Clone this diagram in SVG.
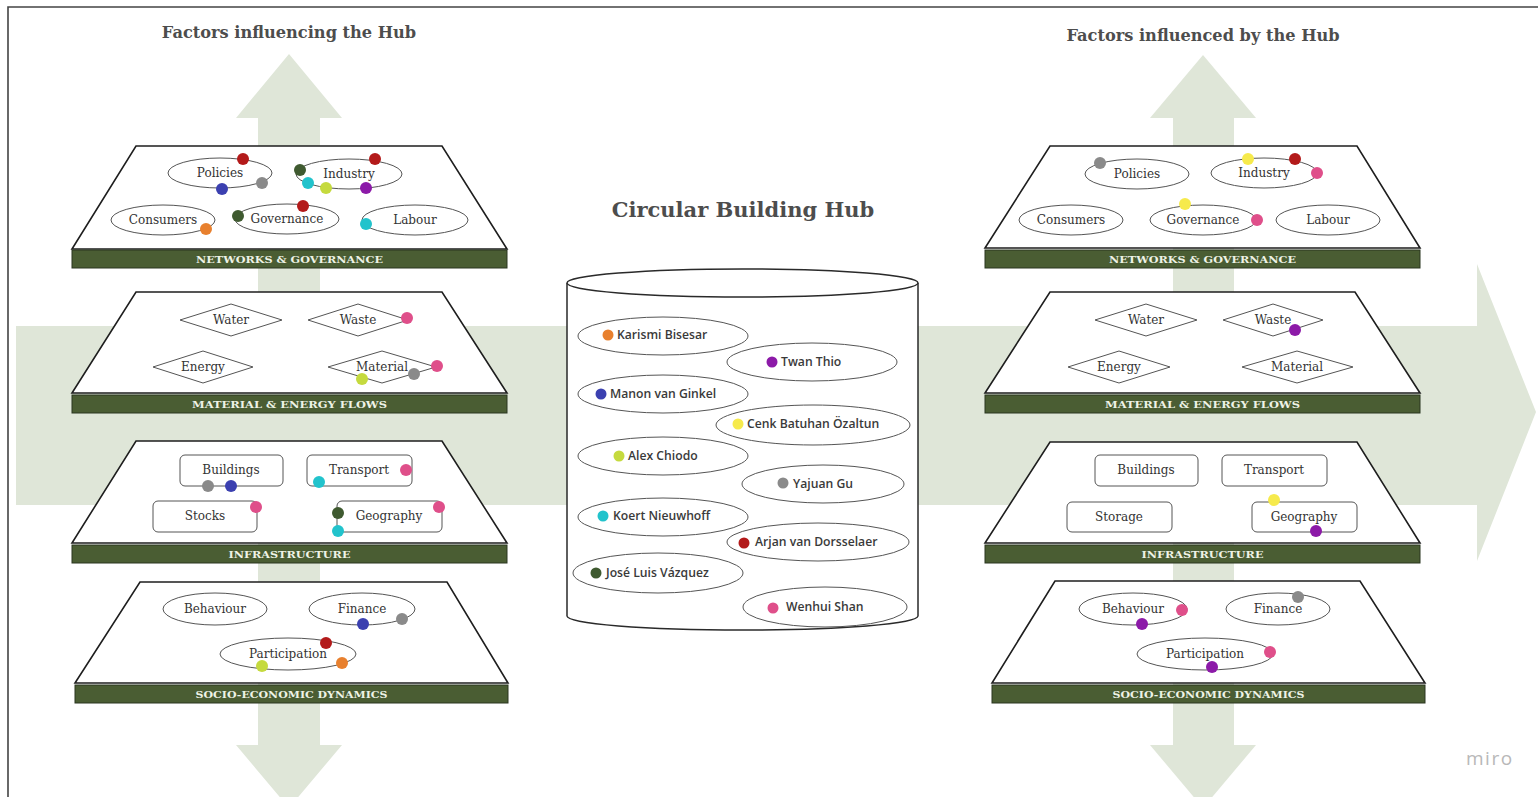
<svg xmlns="http://www.w3.org/2000/svg" width="1538" height="797" viewBox="0 0 1538 797">
<style>
.bg{fill:#dfe6d8}
.pan{fill:#fff;stroke:#1e1e1e;stroke-width:1.6}
.band{fill:#4a5d33;stroke:#2a3620;stroke-width:1}
.bt{font-family:"DejaVu Serif","Liberation Serif",serif;font-weight:bold;font-size:10px;fill:#eef3e6;text-anchor:middle}
.el{fill:#fff;stroke:#555;stroke-width:1}
.t{font-family:"DejaVu Serif","Liberation Serif",serif;font-size:12px;fill:#333;text-anchor:middle}
.title{font-family:"DejaVu Serif","Liberation Serif",serif;font-weight:bold;fill:#4d4d4d;text-anchor:middle}
.nm{font-family:"Open Sans","Noto Sans",sans-serif;font-weight:600;font-size:12.2px;fill:#3a3a3a}
.cyl{fill:#fff;stroke:#2a2a2a;stroke-width:1.5}
.o{fill:#e8802e}.p{fill:#8c1aa8}.b{fill:#3b40b0}.y{fill:#f6ea4c}.g{fill:#c5da3e}.gr{fill:#8a8a8a}.c{fill:#22c3cc}.r{fill:#b31a1a}.dg{fill:#3f5a30}.pk{fill:#df4f8a}
</style>
<rect x="0" y="0" width="1538" height="797" fill="#fff"/>
<path d="M8,797 L8,7 L1538,7" fill="none" stroke="#444" stroke-width="1.6"/>

<g id="background-arrows">
<path class="bg" d="M16,326 L1477,326 L1477,264 L1536,412 L1477,561 L1477,505 L16,505 Z"/>
<path class="bg" d="M258,745 L258,118 L236,118 L289,54 L342,118 L320,118 L320,745 L342,745 L289,808 L236,745 Z"/>
<path class="bg" d="M1173,745 L1173,118 L1150,118 L1203,55 L1256,118 L1234,118 L1234,745 L1256,745 L1203,808 L1150,745 Z"/>
</g>

<text class="title" x="289" y="38" font-size="16.2">Factors influencing the Hub</text>
<text class="title" x="1203" y="41" font-size="16.2">Factors influenced by the Hub</text>
<text class="title" x="743" y="217" font-size="21" fill="#555">Circular Building Hub</text>

<g id="connectors"></g>

<g id="left-networks-governance">
<path class="pan" d="M136,146 L442,146 L507,249 L72,249 Z"/>
<rect class="band" x="72" y="250" width="435" height="18"/>
<text class="bt" x="289.5" y="263" textLength="187" lengthAdjust="spacingAndGlyphs">NETWORKS &amp; GOVERNANCE</text>
<ellipse class="el" cx="220" cy="173" rx="52" ry="15"/><text class="t" x="220" y="177">Policies</text>
<ellipse class="el" cx="349" cy="174" rx="53" ry="15"/><text class="t" x="349" y="178">Industry</text>
<ellipse class="el" cx="163" cy="220" rx="52" ry="15"/><text class="t" x="163" y="224">Consumers</text>
<ellipse class="el" cx="287" cy="219" rx="52" ry="15"/><text class="t" x="287" y="223">Governance</text>
<ellipse class="el" cx="415" cy="220" rx="53" ry="15"/><text class="t" x="415" y="224">Labour</text>
<circle class="r" cx="243" cy="159" r="6"/><circle class="b" cx="222" cy="189" r="6"/><circle class="gr" cx="262" cy="183" r="6"/>
<circle class="r" cx="375" cy="159" r="6"/><circle class="dg" cx="300" cy="170" r="6"/><circle class="c" cx="308" cy="183" r="6"/><circle class="g" cx="326" cy="188" r="6"/><circle class="p" cx="366" cy="188" r="6"/>
<circle class="o" cx="206" cy="229" r="6"/>
<circle class="dg" cx="238" cy="216" r="6"/><circle class="r" cx="303" cy="206" r="6"/>
<circle class="c" cx="366" cy="224" r="6"/>
</g>

<g id="left-material-energy">
<path class="pan" d="M136,292 L442,292 L507,393 L72,393 Z"/>
<rect class="band" x="72" y="395" width="435" height="18"/>
<text class="bt" x="289.5" y="408" textLength="195" lengthAdjust="spacingAndGlyphs">MATERIAL &amp; ENERGY FLOWS</text>
<path class="el" d="M180,320 L231,304 L282,320 L231,336 Z"/><text class="t" x="231" y="324">Water</text>
<path class="el" d="M308,320 L358,304 L408,320 L358,336 Z"/><text class="t" x="358" y="324">Waste</text>
<path class="el" d="M153,367 L203,351 L253,367 L203,383 Z"/><text class="t" x="203" y="371">Energy</text>
<path class="el" d="M328,367 L382,351 L436,367 L382,383 Z"/><text class="t" x="382" y="371">Material</text>
<circle class="pk" cx="407" cy="318" r="6"/>
<circle class="pk" cx="437" cy="366" r="6"/><circle class="gr" cx="414" cy="374" r="6"/><circle class="g" cx="362" cy="379" r="6"/>
</g>

<g id="left-infrastructure">
<path class="pan" d="M136,441 L442,441 L507,543 L72,543 Z"/>
<rect class="band" x="72" y="545" width="435" height="18"/>
<text class="bt" x="289.5" y="558" textLength="122" lengthAdjust="spacingAndGlyphs">INFRASTRUCTURE</text>
<rect class="el" x="180" y="455" width="103" height="31" rx="5"/><text class="t" x="231" y="474">Buildings</text>
<rect class="el" x="307" y="455" width="105" height="31" rx="5"/><text class="t" x="359" y="474">Transport</text>
<rect class="el" x="153" y="501" width="104" height="31" rx="5"/><text class="t" x="205" y="520">Stocks</text>
<rect class="el" x="337" y="501" width="105" height="31" rx="5"/><text class="t" x="389" y="520">Geography</text>
<circle class="gr" cx="208" cy="486" r="6"/><circle class="b" cx="231" cy="486" r="6"/>
<circle class="pk" cx="406" cy="470" r="6"/><circle class="c" cx="319" cy="482" r="6"/>
<circle class="pk" cx="256" cy="507" r="6"/>
<circle class="pk" cx="439" cy="507" r="6"/><circle class="dg" cx="338" cy="513" r="6"/><circle class="c" cx="338" cy="531" r="6"/>
</g>

<g id="left-socio-economic">
<path class="pan" d="M140,582 L447,582 L508,683 L75,683 Z"/>
<rect class="band" x="75" y="685" width="433" height="18"/>
<text class="bt" x="291.5" y="698" textLength="192" lengthAdjust="spacingAndGlyphs">SOCIO-ECONOMIC DYNAMICS</text>
<ellipse class="el" cx="215" cy="609" rx="52" ry="16"/><text class="t" x="215" y="613">Behaviour</text>
<ellipse class="el" cx="362" cy="609" rx="53" ry="16"/><text class="t" x="362" y="613">Finance</text>
<ellipse class="el" cx="288" cy="654" rx="68" ry="16"/><text class="t" x="288" y="658">Participation</text>
<circle class="b" cx="363" cy="624" r="6"/><circle class="gr" cx="402" cy="619" r="6"/>
<circle class="r" cx="326" cy="643" r="6"/><circle class="o" cx="342" cy="663" r="6"/><circle class="g" cx="262" cy="666" r="6"/>
</g>

<g id="hub">
<path class="cyl" d="M567,283 L567,616 A175.5,14 0 0 0 918,616 L918,283"/>
<ellipse class="cyl" cx="742.5" cy="283" rx="175.5" ry="14"/>
</g>
<g id="member-karismi"><ellipse class="el" cx="663" cy="336" rx="85" ry="19"/><circle class="o" cx="608" cy="335" r="5.5"/><text class="nm" x="617" y="339">Karismi Bisesar</text></g>
<g id="member-twan"><ellipse class="el" cx="812" cy="362" rx="85" ry="19"/><circle class="p" cx="772" cy="362" r="5.5"/><text class="nm" x="781" y="366">Twan Thio</text></g>
<g id="member-manon"><ellipse class="el" cx="663" cy="394" rx="85" ry="19"/><circle class="b" cx="601" cy="394" r="5.5"/><text class="nm" x="610" y="398">Manon van Ginkel</text></g>
<g id="member-cenk"><ellipse class="el" cx="813" cy="425" rx="97" ry="20"/><circle class="y" cx="738" cy="424" r="5.5"/><text class="nm" x="747" y="428">Cenk Batuhan Özaltun</text></g>
<g id="member-alex"><ellipse class="el" cx="663" cy="456" rx="85" ry="19"/><circle class="g" cx="619" cy="456" r="5.5"/><text class="nm" x="628" y="460">Alex Chiodo</text></g>
<g id="member-yajuan"><ellipse class="el" cx="823" cy="484" rx="81" ry="19"/><circle class="gr" cx="783" cy="483" r="5.5"/><text class="nm" x="793" y="488">Yajuan Gu</text></g>
<g id="member-koert"><ellipse class="el" cx="663" cy="517" rx="85" ry="19"/><circle class="c" cx="603" cy="516" r="5.5"/><text class="nm" x="613" y="520">Koert Nieuwhoff</text></g>
<g id="member-arjan"><ellipse class="el" cx="818" cy="542" rx="91" ry="19"/><circle class="r" cx="744" cy="543" r="5.5"/><text class="nm" x="755" y="546">Arjan van Dorsselaer</text></g>
<g id="member-jose"><ellipse class="el" cx="658" cy="573" rx="85" ry="20"/><circle class="dg" cx="596" cy="573" r="5.5"/><text class="nm" x="606" y="577">José Luis Vázquez</text></g>
<g id="member-wenhui"><ellipse class="el" cx="825" cy="607" rx="82" ry="20"/><circle class="pk" cx="773" cy="608" r="5.5"/><text class="nm" x="786" y="611">Wenhui Shan</text></g>

<g id="right-networks-governance">
<path class="pan" d="M1050,146 L1357,146 L1420,248 L985,248 Z"/>
<rect class="band" x="985" y="250" width="435" height="18"/>
<text class="bt" x="1202.5" y="263" textLength="187" lengthAdjust="spacingAndGlyphs">NETWORKS &amp; GOVERNANCE</text>
<ellipse class="el" cx="1137" cy="174" rx="52" ry="15"/><text class="t" x="1137" y="178">Policies</text>
<ellipse class="el" cx="1264" cy="173" rx="53" ry="15"/><text class="t" x="1264" y="177">Industry</text>
<ellipse class="el" cx="1071" cy="220" rx="52" ry="15"/><text class="t" x="1071" y="224">Consumers</text>
<ellipse class="el" cx="1203" cy="220" rx="53" ry="15"/><text class="t" x="1203" y="224">Governance</text>
<ellipse class="el" cx="1328" cy="220" rx="52" ry="15"/><text class="t" x="1328" y="224">Labour</text>
<circle class="gr" cx="1100" cy="163" r="6"/>
<circle class="y" cx="1248" cy="159" r="6"/><circle class="r" cx="1295" cy="159" r="6"/><circle class="pk" cx="1317" cy="173" r="6"/>
<circle class="y" cx="1185" cy="204" r="6"/><circle class="pk" cx="1257" cy="220" r="6"/>
</g>

<g id="right-material-energy">
<path class="pan" d="M1050,292 L1355,292 L1420,393 L985,393 Z"/>
<rect class="band" x="985" y="395" width="435" height="18"/>
<text class="bt" x="1202.5" y="408" textLength="195" lengthAdjust="spacingAndGlyphs">MATERIAL &amp; ENERGY FLOWS</text>
<path class="el" d="M1095,320 L1146,304 L1197,320 L1146,336 Z"/><text class="t" x="1146" y="324">Water</text>
<path class="el" d="M1223,320 L1273,304 L1323,320 L1273,336 Z"/><text class="t" x="1273" y="324">Waste</text>
<path class="el" d="M1068,367 L1119,351 L1170,367 L1119,383 Z"/><text class="t" x="1119" y="371">Energy</text>
<path class="el" d="M1242,367 L1297,351 L1353,367 L1297,383 Z"/><text class="t" x="1297" y="371">Material</text>
<circle class="p" cx="1295" cy="330" r="6"/>
</g>

<g id="right-infrastructure">
<path class="pan" d="M1050,442 L1357,442 L1420,543 L985,543 Z"/>
<rect class="band" x="985" y="545" width="435" height="18"/>
<text class="bt" x="1202.5" y="558" textLength="122" lengthAdjust="spacingAndGlyphs">INFRASTRUCTURE</text>
<rect class="el" x="1095" y="455" width="103" height="31" rx="5"/><text class="t" x="1146" y="474">Buildings</text>
<rect class="el" x="1222" y="455" width="105" height="31" rx="5"/><text class="t" x="1274" y="474">Transport</text>
<rect class="el" x="1067" y="502" width="105" height="30" rx="5"/><text class="t" x="1119" y="521">Storage</text>
<rect class="el" x="1252" y="502" width="105" height="30" rx="5"/><text class="t" x="1304" y="521">Geography</text>
<circle class="y" cx="1274" cy="500" r="6"/><circle class="p" cx="1316" cy="531" r="6"/>
</g>

<g id="right-socio-economic">
<path class="pan" d="M1055,581 L1360,581 L1425,683 L992,683 Z"/>
<rect class="band" x="992" y="685" width="433" height="18"/>
<text class="bt" x="1208.5" y="698" textLength="192" lengthAdjust="spacingAndGlyphs">SOCIO-ECONOMIC DYNAMICS</text>
<ellipse class="el" cx="1133" cy="609" rx="54" ry="16"/><text class="t" x="1133" y="613">Behaviour</text>
<ellipse class="el" cx="1278" cy="609" rx="52" ry="16"/><text class="t" x="1278" y="613">Finance</text>
<ellipse class="el" cx="1205" cy="654" rx="68" ry="16"/><text class="t" x="1205" y="658">Participation</text>
<circle class="pk" cx="1182" cy="610" r="6"/><circle class="p" cx="1142" cy="624" r="6"/>
<circle class="gr" cx="1298" cy="597" r="6"/>
<circle class="pk" cx="1270" cy="652" r="6"/><circle class="p" cx="1212" cy="667" r="6"/>
</g>

<text x="1466" y="765" font-family="'Open Sans','Noto Sans',sans-serif" font-size="19" letter-spacing="1.5" fill="#b8b8b8">miro</text>
</svg>
